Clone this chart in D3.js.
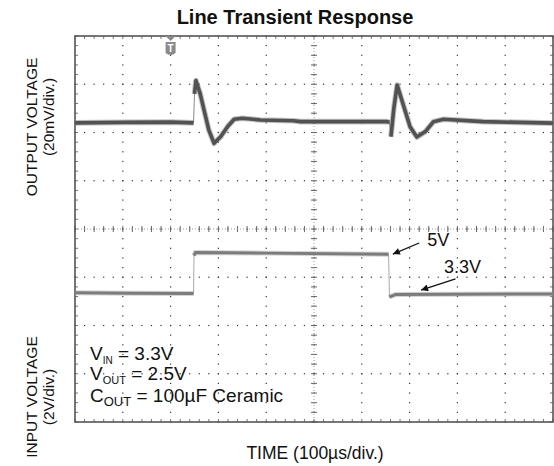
<!DOCTYPE html>
<html>
<head>
<meta charset="utf-8">
<script src="https://cdn.jsdelivr.net/npm/d3@7"></script>
<style>
  body { margin: 0; background: #fff; }
  text { font-family: "Liberation Sans", Arial, sans-serif; fill: #111; }
</style>
</head>
<body>
<div id="chart"></div>
<script>
// scope settings
const timeDivs = 10, voltDivs = 8, subDivs = 5;
const timePerDiv = 100;        // us
const outMvPerDiv = 20;        // mV
const inVPerDiv = 2;           // V

// output voltage trace (deviation from 2.5V, mV)
const outT  = [0, 100, 200, 248, 250, 253, 262, 270, 280, 291, 305, 319, 333, 350, 388, 457, 472, 560, 653, 658, 661, 667, 674, 688, 701, 715, 733, 750, 771, 854, 1000];
const outMv = [0, 0.2, 0.3, 0, 12, 17.5, 12, 5.3, -3.0, -8.5, -5.7, -1.6, 1.5, 1.9, 1.2, 0.9, 0.5, 0.5, 0.5, 0.3, -5.7, 6, 15.7, 6.7, -1.6, -5.9, -3.6, 0.5, 1.5, 0.5, -0.1];

// input voltage trace (V)
const inT = [0, 120, 248, 249, 252, 400, 656, 658, 660, 670, 1000];
const inV = [3.36, 3.34, 3.33, 4.9, 5.03, 5.0, 4.95, 3.17, 3.2, 3.28, 3.31];

const triggerT = 200;

const width = 554, height = 466;
const plot = { left: 75, right: 553, top: 36, bottom: 422 };

const svg = d3.select("#chart").append("svg")
    .attr("width", width)
    .attr("height", height);

const x = d3.scaleLinear().domain([0, timeDivs * timePerDiv]).range([plot.left, plot.right]);
const xd = d3.scaleLinear().domain([0, timeDivs]).range([plot.left, plot.right]);
const yd = d3.scaleLinear().domain([0, voltDivs]).range([plot.bottom, plot.top]);
// output channel: 2.5V sits at 6.2 div
const outY = d3.scaleLinear().domain([-6.2 * outMvPerDiv, (voltDivs - 6.2) * outMvPerDiv]).range([plot.bottom, plot.top]);
// input channel: 0V at 1 div
const inY = d3.scaleLinear().domain([-1 * inVPerDiv, (voltDivs - 1) * inVPerDiv]).range([plot.bottom, plot.top]);

const minorX = d3.range(0, timeDivs * subDivs + 1).map(i => i / subDivs);
const minorY = d3.range(0, voltDivs * subDivs + 1).map(i => i / subDivs);

// graticule dots
const grid = svg.append("g").attr("fill", "#333");
d3.range(1, timeDivs).forEach(i => {
    grid.selectAll(null).data(minorY).enter().append("rect")
        .attr("x", xd(i) - 0.6).attr("y", d => yd(d) - 0.6)
        .attr("width", 1.2).attr("height", 1.2);
});
d3.range(1, voltDivs).forEach(j => {
    grid.selectAll(null).data(minorX).enter().append("rect")
        .attr("x", d => xd(d) - 0.6).attr("y", yd(j) - 0.6)
        .attr("width", 1.2).attr("height", 1.2);
});

// centre crosshair ticks
const cross = svg.append("g").attr("stroke", "#666").attr("stroke-width", 1);
cross.selectAll(null).data(minorY).enter().append("line")
    .attr("x1", xd(timeDivs / 2) - 3).attr("x2", xd(timeDivs / 2) + 3)
    .attr("y1", d => yd(d)).attr("y2", d => yd(d));
cross.selectAll(null).data(minorX).enter().append("line")
    .attr("y1", yd(voltDivs / 2) - 3).attr("y2", yd(voltDivs / 2) + 3)
    .attr("x1", d => xd(d)).attr("x2", d => xd(d));
cross.append("line")
    .attr("x1", xd(timeDivs / 2)).attr("x2", xd(timeDivs / 2))
    .attr("y1", plot.top).attr("y2", plot.bottom)
    .attr("stroke", "#999").attr("stroke-dasharray", "1,2");
cross.append("line")
    .attr("x1", plot.left).attr("x2", plot.right)
    .attr("y1", yd(voltDivs / 2)).attr("y2", yd(voltDivs / 2))
    .attr("stroke", "#999").attr("stroke-dasharray", "1,2");

// border ticks
const ticks = svg.append("g").attr("stroke", "#777").attr("stroke-width", 1);
ticks.selectAll(null).data(minorX).enter().append("line")
    .attr("x1", d => xd(d)).attr("x2", d => xd(d))
    .attr("y1", plot.top).attr("y2", plot.top + 3);
ticks.selectAll(null).data(minorX).enter().append("line")
    .attr("x1", d => xd(d)).attr("x2", d => xd(d))
    .attr("y1", plot.bottom).attr("y2", plot.bottom - 3);
ticks.selectAll(null).data(minorY).enter().append("line")
    .attr("y1", d => yd(d)).attr("y2", d => yd(d))
    .attr("x1", plot.left).attr("x2", plot.left + 3);
ticks.selectAll(null).data(minorY).enter().append("line")
    .attr("y1", d => yd(d)).attr("y2", d => yd(d))
    .attr("x1", plot.right).attr("x2", plot.right - 3);

svg.append("rect")
    .attr("x", plot.left).attr("y", plot.top)
    .attr("width", plot.right - plot.left).attr("height", plot.bottom - plot.top)
    .attr("fill", "none").attr("stroke", "#555").attr("stroke-width", 1.6);

// traces: thick where flat, thin on the fast edges
function drawTrace(ts, vs, yScale, dark, light, w) {
    const pts = ts.map((t, i) => [x(t), yScale(vs[i])]);
    const line = d3.line();
    svg.append("path").attr("d", line(pts))
        .attr("fill", "none").attr("stroke", light).attr("stroke-width", 1);
    const segs = [];
    let cur = [pts[0]];
    for (let i = 1; i < pts.length; i++) {
        const dx = pts[i][0] - pts[i - 1][0], dy = pts[i][1] - pts[i - 1][1];
        if (Math.abs(dy) > 10 * Math.abs(dx)) {
            if (cur.length > 1) segs.push(cur);
            cur = [pts[i]];
        } else cur.push(pts[i]);
    }
    if (cur.length > 1) segs.push(cur);
    segs.forEach(s => {
        svg.append("path").attr("d", line(s))
            .attr("fill", "none").attr("stroke", light).attr("stroke-width", w + 2)
            .attr("stroke-linejoin", "round").attr("opacity", 0.5);
        svg.append("path").attr("d", line(s))
            .attr("fill", "none").attr("stroke", dark).attr("stroke-width", w)
            .attr("stroke-linejoin", "round");
    });
}
drawTrace(outT, outMv, outY, "#525252", "#8a8a8a", 3.6);
drawTrace(inT, inV, inY, "#7c7c7c", "#a8a8a8", 3);

// trigger marker
const tx = x(triggerT);
svg.append("path")
    .attr("d", `M${tx - 5},${plot.top} L${tx + 5},${plot.top} L${tx},${plot.top + 5} Z`)
    .attr("fill", "#888");
svg.append("path")
    .attr("d", `M${tx - 5},${plot.top + 6} L${tx + 5},${plot.top + 6} L${tx + 5},${plot.top + 17} Q${tx},${plot.top + 21} ${tx - 5},${plot.top + 17} Z`)
    .attr("fill", "#8a8a8a");
svg.append("text").attr("x", tx).attr("y", plot.top + 16)
    .attr("text-anchor", "middle").style("font-size", "10px").style("font-weight", "bold")
    .style("fill", "#fff").text("T");

// arrow annotations
svg.append("defs").append("marker")
    .attr("id", "head").attr("viewBox", "0 0 10 10")
    .attr("refX", 10).attr("refY", 5)
    .attr("markerWidth", 10).attr("markerHeight", 7).attr("markerUnits", "userSpaceOnUse")
    .attr("orient", "auto")
    .append("path").attr("d", "M0,0 L10,5 L0,10 Z").attr("fill", "#111");

const arrows = [
    { label: "5V",   tailT: 720, tailV: 5.42, tipT: 665, tipV: 4.96, textT: 737, textV: 5.3 },
    { label: "3.3V", tailT: 796, tailV: 3.93, tipT: 724, tipV: 3.47, textT: 772, textV: 4.18 }
];
arrows.forEach(a => {
    svg.append("line")
        .attr("x1", x(a.tailT)).attr("y1", inY(a.tailV))
        .attr("x2", x(a.tipT)).attr("y2", inY(a.tipV))
        .attr("stroke", "#111").attr("stroke-width", 1.3)
        .attr("marker-end", "url(#head)");
    svg.append("text").attr("x", x(a.textT)).attr("y", inY(a.textV))
        .style("font-size", "18px").text(a.label);
});

// conditions block
const cond = svg.append("text").style("font-size", "19px");
const l1 = cond.append("tspan").attr("x", 90).attr("y", 360);
l1.append("tspan").text("V");
l1.append("tspan").attr("dy", 4).style("font-size", "10px").text("IN");
l1.append("tspan").attr("dy", -4).text(" = 3.3V");
const l2 = cond.append("tspan").attr("x", 90).attr("y", 380);
l2.append("tspan").text("V");
l2.append("tspan").attr("dy", 4).style("font-size", "11px").text("OUT");
l2.append("tspan").attr("dy", -4).text(" = 2.5V");
const l3 = cond.append("tspan").attr("x", 90).attr("y", 402);
l3.append("tspan").text("C");
l3.append("tspan").attr("dy", 4).style("font-size", "13px").text("OUT");
l3.append("tspan").attr("dy", -4).text(" = 100µF Ceramic");

// titles
svg.append("text").attr("x", 295).attr("y", 24)
    .attr("text-anchor", "middle")
    .style("font-size", "20px").style("font-weight", "bold")
    .text("Line Transient Response");

svg.append("text").attr("x", 315).attr("y", 459)
    .attr("text-anchor", "middle").style("font-size", "17.5px")
    .text("TIME (100µs/div.)");

const yLabels = [
    { text: "OUTPUT VOLTAGE", x: 37, y: 127 },
    { text: "(20mV/div.)",    x: 54, y: 117 },
    { text: "INPUT VOLTAGE",  x: 37, y: 397 },
    { text: "(2V/div.)",      x: 54, y: 397 }
];
svg.selectAll(".ylab").data(yLabels).enter().append("text")
    .attr("class", "ylab")
    .attr("transform", d => `translate(${d.x},${d.y}) rotate(-90)`)
    .attr("text-anchor", "middle").style("font-size", "15.5px")
    .text(d => d.text);
</script>
</body>
</html>
